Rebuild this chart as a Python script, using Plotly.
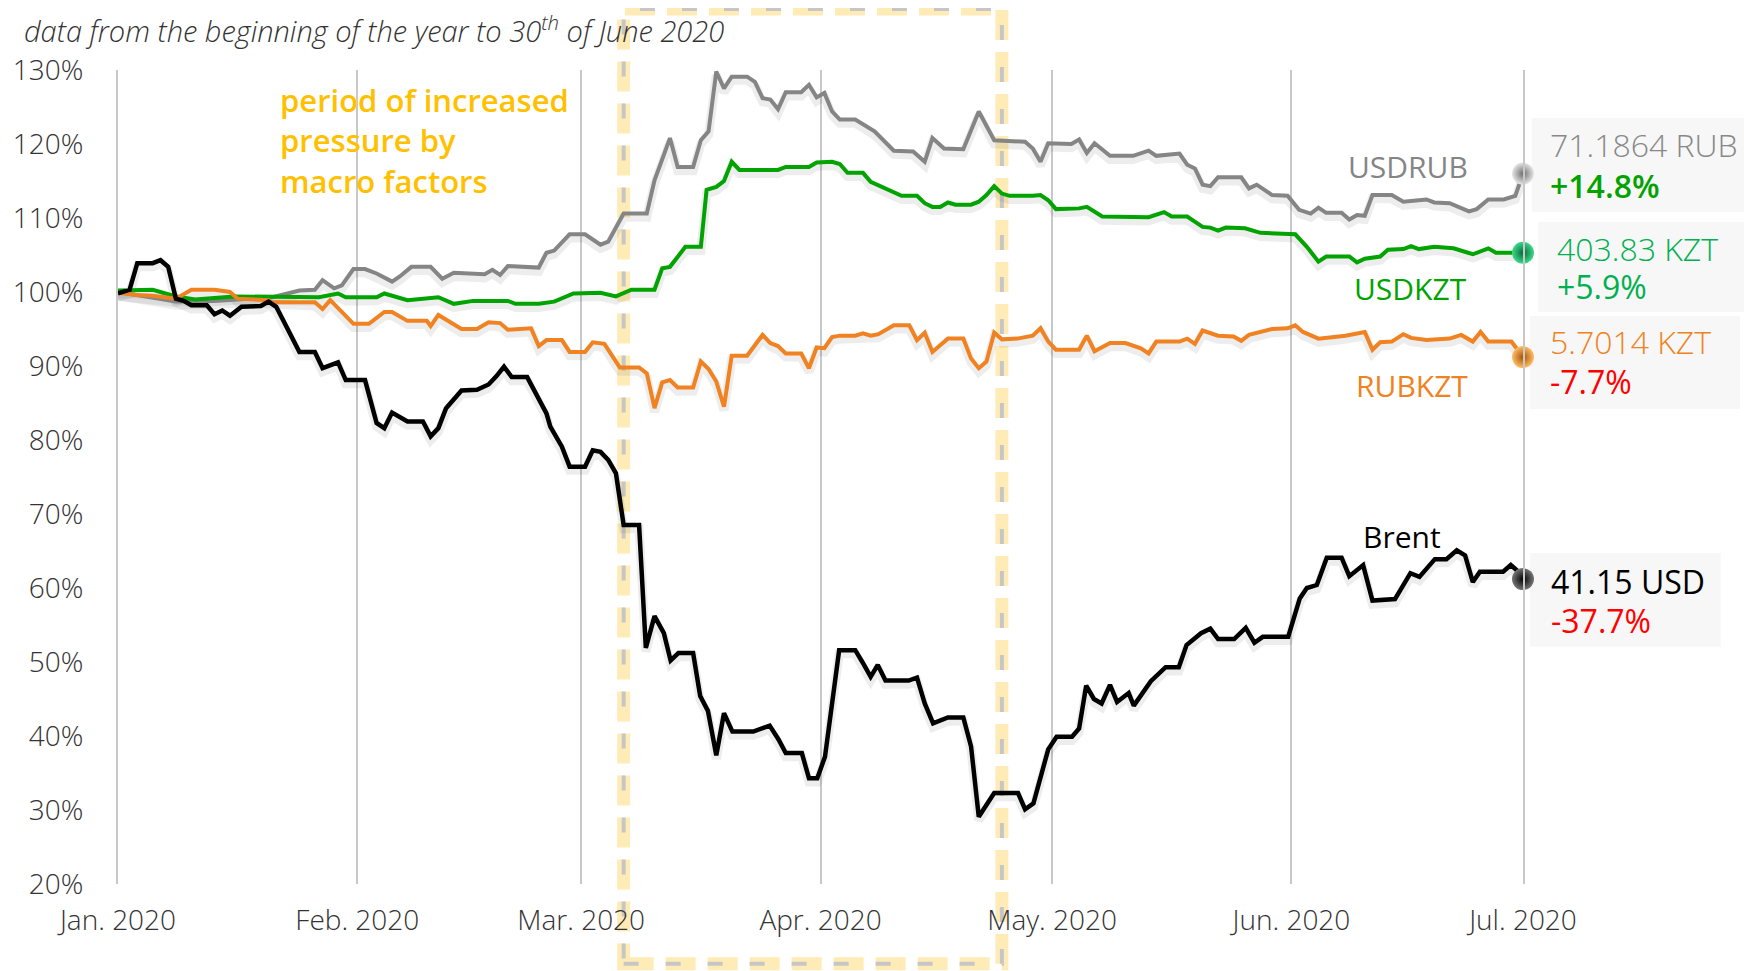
import plotly.graph_objects as go

# ---------------- axis ticks ----------------
month_ticks = ["2020-01-01", "2020-02-01", "2020-03-01", "2020-04-01",
               "2020-05-01", "2020-06-01", "2020-07-01"]
month_labels = ["Jan. 2020", "Feb. 2020", "Mar. 2020", "Apr. 2020",
                "May. 2020", "Jun. 2020", "Jul. 2020"]
pct_ticks = [20, 30, 40, 50, 60, 70, 80, 90, 100, 110, 120, 130]
pct_labels = ["20%", "30%", "40%", "50%", "60%", "70%", "80%", "90%",
              "100%", "110%", "120%", "130%"]

# ---------------- USDRUB (index, start of year = 100%) ----------------
usdrub_dates = [
    "2020-01-01", "2020-01-08 12:00", "2020-01-13 12:00", "2020-01-21", "2020-01-24 12:00",
    "2020-01-26 12:00", "2020-01-27 12:00", "2020-01-29", "2020-01-30", "2020-01-31 12:00",
    "2020-02-02", "2020-02-03 12:00", "2020-02-05 12:00", "2020-02-06 12:00", "2020-02-08",
    "2020-02-10 12:00", "2020-02-12", "2020-02-13 12:00", "2020-02-17 12:00", "2020-02-18 12:00",
    "2020-02-19 12:00", "2020-02-20 12:00", "2020-02-24 12:00", "2020-02-25 12:00", "2020-02-26 12:00",
    "2020-02-28 12:00", "2020-03-01 12:00", "2020-03-03 12:00", "2020-03-04 12:00", "2020-03-06 12:00",
    "2020-03-09 12:00", "2020-03-10 12:00", "2020-03-12 12:00", "2020-03-13 12:00", "2020-03-15 12:00",
    "2020-03-16 12:00", "2020-03-17 12:00", "2020-03-18 12:00", "2020-03-19 12:00", "2020-03-20 12:00",
    "2020-03-22 12:00", "2020-03-23 12:00", "2020-03-24 12:00", "2020-03-25 12:00", "2020-03-26 12:00",
    "2020-03-27 12:00", "2020-03-29 12:00", "2020-03-30 12:00", "2020-03-31 12:00", "2020-04-01 12:00",
    "2020-04-02 12:00", "2020-04-03 12:00", "2020-04-05 12:00", "2020-04-08", "2020-04-10 12:00",
    "2020-04-13", "2020-04-14 12:00", "2020-04-15 12:00", "2020-04-17", "2020-04-19 12:00",
    "2020-04-21 12:00", "2020-04-23 12:00", "2020-04-27 12:00", "2020-04-28 12:00", "2020-04-29 12:00",
    "2020-04-30 12:00", "2020-05-03 12:00", "2020-05-04 12:00", "2020-05-05 12:00", "2020-05-06 12:00",
    "2020-05-08 12:00", "2020-05-11 12:00", "2020-05-13 12:00", "2020-05-14 12:00", "2020-05-17 12:00",
    "2020-05-18 12:00", "2020-05-19 12:00", "2020-05-20 12:00", "2020-05-21 12:00", "2020-05-22 12:00",
    "2020-05-25 12:00", "2020-05-26 12:00", "2020-05-27 12:00", "2020-05-29 12:00", "2020-05-31 12:00",
    "2020-06-02", "2020-06-03 12:00", "2020-06-04 12:00", "2020-06-05 12:00", "2020-06-07 12:00",
    "2020-06-08 12:00", "2020-06-09 12:00", "2020-06-10 12:00", "2020-06-11 12:00", "2020-06-14",
    "2020-06-15 12:00", "2020-06-18 12:00", "2020-06-19 12:00", "2020-06-21 12:00", "2020-06-24",
    "2020-06-25", "2020-06-26 12:00", "2020-06-28 12:00", "2020-06-30", "2020-07-01",
]
usdrub_values = [
    100.0, 98.7, 98.8, 99.3, 100.2,
    100.3, 101.6, 100.5, 100.9, 103.1,
    103.1, 102.5, 101.4, 102.1, 103.4,
    103.4, 101.8, 102.6, 102.4, 103.0,
    102.3, 103.5, 103.3, 105.3, 105.6,
    107.8, 107.8, 106.4, 106.8, 110.6,
    110.6, 115.1, 120.8, 116.9, 116.9,
    120.5, 121.7, 129.8, 127.5, 129.1,
    129.1, 128.4, 126.2, 126.0, 124.7,
    127.0, 127.0, 128.0, 126.3, 126.9,
    124.4, 123.3, 123.3, 121.7, 119.1,
    119.0, 117.6, 120.8, 119.4, 119.3,
    124.4, 120.5, 120.3, 119.4, 117.6,
    120.1, 120.0, 120.6, 118.8, 120.1,
    118.4, 118.4, 119.1, 118.4, 118.7,
    117.2, 116.7, 114.5, 114.3, 115.5,
    115.5, 114.0, 114.5, 113.1, 113.0,
    111.1, 110.6, 111.4, 110.7, 110.7,
    109.8, 110.4, 110.3, 113.1, 113.1,
    112.2, 112.5, 112.1, 112.0, 110.9,
    111.2, 112.5, 112.5, 113.0, 116.0,
]

# ---------------- USDKZT ----------------
usdkzt_dates = [
    "2020-01-01", "2020-01-05 12:00", "2020-01-08 12:00", "2020-01-11", "2020-01-16",
    "2020-01-21", "2020-01-27", "2020-01-29 12:00", "2020-01-30 12:00", "2020-02-03 12:00",
    "2020-02-04 12:00", "2020-02-07 12:00", "2020-02-11 12:00", "2020-02-13 12:00", "2020-02-16",
    "2020-02-20 12:00", "2020-02-21 12:00", "2020-02-24 12:00", "2020-02-26 12:00", "2020-02-29",
    "2020-03-03 12:00", "2020-03-05 12:00", "2020-03-07 12:00", "2020-03-10 12:00", "2020-03-11 12:00",
    "2020-03-12 12:00", "2020-03-14 12:00", "2020-03-16 12:00", "2020-03-17 06:00", "2020-03-18 12:00",
    "2020-03-19 12:00", "2020-03-20 12:00", "2020-03-21 12:00", "2020-03-26 12:00", "2020-03-27 12:00",
    "2020-03-30 12:00", "2020-03-31 12:00", "2020-04-02 12:00", "2020-04-03 12:00", "2020-04-04 12:00",
    "2020-04-06 12:00", "2020-04-07 12:00", "2020-04-09 12:00", "2020-04-11 12:00", "2020-04-13 12:00",
    "2020-04-14 12:00", "2020-04-15 12:00", "2020-04-16 12:00", "2020-04-17 12:00", "2020-04-18 12:00",
    "2020-04-20 12:00", "2020-04-21 12:00", "2020-04-22 12:00", "2020-04-23 12:00", "2020-04-24 12:00",
    "2020-04-25 12:00", "2020-04-28 12:00", "2020-04-29 12:00", "2020-04-30 12:00", "2020-05-01 12:00",
    "2020-05-04 12:00", "2020-05-05 12:00", "2020-05-07 12:00", "2020-05-11 12:00", "2020-05-13 12:00",
    "2020-05-15 12:00", "2020-05-16 12:00", "2020-05-18 12:00", "2020-05-20 12:00", "2020-05-21 12:00",
    "2020-05-22 12:00", "2020-05-23 12:00", "2020-05-26", "2020-05-28", "2020-05-29 12:00",
    "2020-06-01 12:00", "2020-06-03", "2020-06-04 12:00", "2020-06-05 12:00", "2020-06-08 12:00",
    "2020-06-09 12:00", "2020-06-10 12:00", "2020-06-12 12:00", "2020-06-13 12:00", "2020-06-15 12:00",
    "2020-06-16 12:00", "2020-06-17 12:00", "2020-06-19 12:00", "2020-06-22", "2020-06-24 12:00",
    "2020-06-26 12:00", "2020-06-27 12:00", "2020-06-30", "2020-07-01",
]
usdkzt_values = [
    100.2, 100.3, 99.4, 99.0, 99.4,
    99.3, 99.3, 99.8, 99.3, 99.3,
    99.8, 98.9, 99.3, 98.4, 98.8,
    98.8, 98.4, 98.4, 98.7, 99.8,
    99.9, 99.4, 100.3, 100.3, 103.2,
    103.4, 106.1, 106.1, 113.8, 114.2,
    115.0, 117.6, 116.5, 116.5, 116.9,
    116.9, 117.5, 117.6, 117.3, 116.1,
    116.1, 114.9, 114.0, 113.0, 113.0,
    112.0, 111.5, 111.5, 112.1, 111.8,
    111.8, 112.2, 113.1, 114.3, 113.3,
    113.0, 113.0, 113.1, 112.4, 111.2,
    111.3, 111.5, 110.2, 110.2, 110.1,
    110.8, 110.2, 110.2, 108.8, 108.7,
    108.3, 108.7, 108.6, 108.0, 107.9,
    107.8, 106.1, 104.1, 104.8, 104.8,
    104.0, 104.5, 104.8, 105.7, 105.8,
    106.2, 105.8, 106.1, 105.9, 105.1,
    105.9, 105.3, 105.3, 105.3,
]

# ---------------- RUBKZT ----------------
rubkzt_dates = [
    "2020-01-01", "2020-01-03 12:00", "2020-01-05 12:00", "2020-01-08 12:00", "2020-01-10 12:00",
    "2020-01-13 12:00", "2020-01-15 12:00", "2020-01-16 12:00", "2020-01-20 12:00", "2020-01-21",
    "2020-01-26 12:00", "2020-01-27 12:00", "2020-01-28 12:00", "2020-01-30", "2020-01-31 12:00",
    "2020-02-02 12:00", "2020-02-04 12:00", "2020-02-05 12:00", "2020-02-07 12:00", "2020-02-10",
    "2020-02-10 12:00", "2020-02-11 12:00", "2020-02-12 12:00", "2020-02-14 12:00", "2020-02-16 12:00",
    "2020-02-18", "2020-02-19 12:00", "2020-02-20 12:00", "2020-02-23 12:00", "2020-02-24 12:00",
    "2020-02-25 12:00", "2020-02-27 12:00", "2020-02-28 12:00", "2020-03-01 12:00", "2020-03-02 12:00",
    "2020-03-04", "2020-03-06", "2020-03-08 12:00", "2020-03-09 12:00", "2020-03-10 12:00",
    "2020-03-11 12:00", "2020-03-12 12:00", "2020-03-13 12:00", "2020-03-15 12:00", "2020-03-16 12:00",
    "2020-03-17 12:00", "2020-03-18 12:00", "2020-03-19 12:00", "2020-03-20 12:00", "2020-03-22 12:00",
    "2020-03-23 12:00", "2020-03-24 12:00", "2020-03-25 12:00", "2020-03-26 12:00", "2020-03-27 12:00",
    "2020-03-29 12:00", "2020-03-30 12:00", "2020-03-31 12:00", "2020-04-01 12:00", "2020-04-02 12:00",
    "2020-04-03 12:00", "2020-04-05 12:00", "2020-04-06 12:00", "2020-04-07 12:00", "2020-04-08 12:00",
    "2020-04-10 12:00", "2020-04-12 12:00", "2020-04-13 12:00", "2020-04-14 12:00", "2020-04-15 12:00",
    "2020-04-16 12:00", "2020-04-17 12:00", "2020-04-19 12:00", "2020-04-20 12:00", "2020-04-21 12:00",
    "2020-04-22 12:00", "2020-04-23 12:00", "2020-04-24 12:00", "2020-04-26 12:00", "2020-04-28 12:00",
    "2020-04-29 12:00", "2020-04-30 12:00", "2020-05-01 12:00", "2020-05-04 12:00", "2020-05-05 12:00",
    "2020-05-06 12:00", "2020-05-08 12:00", "2020-05-10 12:00", "2020-05-12 12:00", "2020-05-13 12:00",
    "2020-05-14 12:00", "2020-05-17 12:00", "2020-05-18 12:00", "2020-05-19 12:00", "2020-05-20 12:00",
    "2020-05-22 12:00", "2020-05-24 12:00", "2020-05-25 12:00", "2020-05-26 12:00", "2020-05-29 12:00",
    "2020-05-31 12:00", "2020-06-01 12:00", "2020-06-02 12:00", "2020-06-04 12:00", "2020-06-08",
    "2020-06-10 12:00", "2020-06-11 12:00", "2020-06-12 12:00", "2020-06-14", "2020-06-15 12:00",
    "2020-06-16 12:00", "2020-06-18 12:00", "2020-06-21 12:00", "2020-06-23", "2020-06-24 12:00",
    "2020-06-25 12:00", "2020-06-26 12:00", "2020-06-29 12:00", "2020-07-01",
]
rubkzt_values = [
    99.9, 99.6, 99.5, 99.1, 100.3,
    100.3, 100.0, 99.1, 98.9, 98.6,
    98.6, 97.7, 98.9, 97.3, 95.7,
    95.7, 97.3, 97.3, 96.1, 96.1,
    95.4, 96.9, 96.3, 95.0, 95.0,
    95.9, 95.8, 94.9, 95.1, 92.7,
    93.5, 93.5, 91.9, 91.9, 93.2,
    93.0, 89.8, 89.8, 89.0, 84.3,
    87.8, 88.1, 87.1, 87.1, 90.6,
    89.6, 87.9, 84.5, 91.4, 91.4,
    92.8, 94.2, 93.1, 92.7, 91.7,
    91.7, 89.7, 92.5, 92.4, 93.9,
    94.1, 94.1, 94.4, 94.1, 94.3,
    95.5, 95.5, 93.5, 94.5, 91.9,
    92.8, 93.7, 93.7, 91.0, 89.7,
    90.6, 94.5, 93.6, 93.7, 94.1,
    95.1, 93.3, 92.2, 92.2, 94.1,
    92.0, 93.1, 93.1, 92.4, 91.7,
    93.3, 93.3, 93.7, 93.0, 94.8,
    94.1, 94.0, 93.4, 94.2, 95.0,
    95.1, 95.5, 94.6, 93.7, 94.1,
    94.6, 92.2, 93.2, 93.3, 94.3,
    93.8, 93.5, 93.7, 94.2, 93.3,
    94.6, 93.3, 93.3, 91.2,
]

# ---------------- Brent ----------------
brent_dates = [
    "2020-01-01", "2020-01-02 12:00", "2020-01-03 12:00", "2020-01-05 12:00", "2020-01-06 12:00",
    "2020-01-07 12:00", "2020-01-08 12:00", "2020-01-09 12:00", "2020-01-10 12:00", "2020-01-12 12:00",
    "2020-01-13 12:00", "2020-01-14 12:00", "2020-01-15 12:00", "2020-01-17", "2020-01-19 12:00",
    "2020-01-20 12:00", "2020-01-21 12:00", "2020-01-23", "2020-01-24 12:00", "2020-01-26 12:00",
    "2020-01-27 12:00", "2020-01-29 12:00", "2020-01-30 12:00", "2020-02-02", "2020-02-03 12:00",
    "2020-02-04 12:00", "2020-02-05 12:00", "2020-02-07 12:00", "2020-02-09 12:00", "2020-02-10 12:00",
    "2020-02-11 12:00", "2020-02-12 12:00", "2020-02-13 12:00", "2020-02-14 12:00", "2020-02-16 12:00",
    "2020-02-18", "2020-02-19", "2020-02-20", "2020-02-21", "2020-02-23",
    "2020-02-25 12:00", "2020-02-26", "2020-02-27 12:00", "2020-02-28 12:00", "2020-03-01 12:00",
    "2020-03-02 12:00", "2020-03-03 12:00", "2020-03-04 12:00", "2020-03-05 12:00", "2020-03-06 12:00",
    "2020-03-08 12:00", "2020-03-09 09:00", "2020-03-10 12:00", "2020-03-11 17:00", "2020-03-12 14:00",
    "2020-03-13 14:00", "2020-03-15 12:00", "2020-03-16 10:00", "2020-03-17 10:00", "2020-03-18 12:00",
    "2020-03-19 12:00", "2020-03-20 14:00", "2020-03-23 07:00", "2020-03-25 10:00", "2020-03-26 14:00",
    "2020-03-27 12:00", "2020-03-29 14:00", "2020-03-30 12:00", "2020-03-31 14:00", "2020-04-01 14:00",
    "2020-04-03 10:00", "2020-04-05 12:00", "2020-04-06 10:00", "2020-04-07 12:00", "2020-04-08 10:00",
    "2020-04-09 10:00", "2020-04-12 10:00", "2020-04-13 12:00", "2020-04-14 12:00", "2020-04-15 14:00",
    "2020-04-17 12:00", "2020-04-19 12:00", "2020-04-20 12:00", "2020-04-21 12:00", "2020-04-23 12:00",
    "2020-04-26 14:00", "2020-04-27 12:00", "2020-04-28 14:00", "2020-04-29 07:00", "2020-04-30 12:00",
    "2020-05-01 14:00", "2020-05-03 14:00", "2020-05-04 12:00", "2020-05-05 10:00", "2020-05-06 10:00",
    "2020-05-07 10:00", "2020-05-08 12:00", "2020-05-09 10:00", "2020-05-10 22:00", "2020-05-11 14:00",
    "2020-05-13 19:00", "2020-05-15 17:00", "2020-05-17 10:00", "2020-05-18 10:00", "2020-05-20 07:00",
    "2020-05-21 12:00", "2020-05-22 12:00", "2020-05-24 14:00", "2020-05-26 02:00", "2020-05-27 05:00",
    "2020-05-28 07:00", "2020-05-31 14:00", "2020-06-02 02:00", "2020-06-03", "2020-06-04 07:00",
    "2020-06-05 14:00", "2020-06-07 12:00", "2020-06-08 12:00", "2020-06-10 07:00", "2020-06-11 12:00",
    "2020-06-14 10:00", "2020-06-16 10:00", "2020-06-17 14:00", "2020-06-19 14:00", "2020-06-21 02:00",
    "2020-06-22 10:00", "2020-06-23 12:00", "2020-06-24 12:00", "2020-06-25 10:00", "2020-06-28 10:00",
    "2020-06-29 10:00", "2020-06-30 10:00", "2020-07-01",
]
brent_values = [
    99.8, 100.3, 103.9, 103.9, 104.3,
    103.4, 99.1, 98.8, 98.2, 98.2,
    97.0, 97.5, 96.8, 98.0, 98.1,
    98.7, 98.0, 94.9, 91.9, 91.9,
    89.7, 90.5, 88.1, 88.1, 82.3,
    81.6, 83.7, 82.5, 82.5, 80.5,
    81.6, 84.3, 85.4, 86.7, 86.8,
    87.5, 88.6, 89.9, 88.5, 88.5,
    83.6, 81.8, 79.1, 76.4, 76.4,
    78.6, 78.4, 77.3, 75.5, 68.5,
    68.5, 51.9, 56.2, 53.9, 50.2,
    51.2, 51.2, 45.4, 43.4, 37.4,
    43.1, 40.6, 40.6, 41.4, 39.5,
    37.7, 37.7, 34.3, 34.3, 37.2,
    51.6, 51.6, 50.0, 48.0, 49.6,
    47.5, 47.5, 47.9, 44.4, 41.7,
    42.5, 42.5, 38.6, 29.1, 32.3,
    32.3, 30.1, 30.9, 33.6, 38.2,
    39.9, 39.9, 41.0, 46.8, 45.0,
    44.4, 46.9, 44.6, 45.8, 44.1,
    47.4, 49.3, 49.3, 52.3, 53.9,
    54.5, 53.1, 53.1, 54.6, 52.6,
    53.4, 53.4, 58.6, 60.0, 60.4,
    64.1, 64.1, 61.6, 63.1, 58.3,
    58.5, 62.0, 61.5, 63.9, 63.9,
    65.1, 64.4, 60.8, 62.2, 62.2,
    63.1, 62.2, 61.2,
]

# ---------------- texts ----------------
series_names = ["USDRUB", "USDKZT", "RUBKZT", "Brent"]
last_quotes = ["71.1864 RUB", "403.83 KZT", "5.7014 KZT", "41.15 USD"]
ytd_changes = ["+14.8%", "+5.9%", "-7.7%", "-37.7%"]
title_text = "data from the beginning of the year to 30<sup>th</sup> of June 2020"
period_text = "period of increased<br>pressure by<br>macro factors"
period_start = "2020-03-06 12:00"
period_end = "2020-04-24 12:00"

FONT = "Open Sans"

series = [
    dict(x=usdrub_dates, y=usdrub_values, color="#858585", width=4,
         m_center="#e6e6e6", m_edge="#6e6e6e"),
    dict(x=usdkzt_dates, y=usdkzt_values, color="#00a300", width=4,
         m_center="#3fd98a", m_edge="#006b3a"),
    dict(x=rubkzt_dates, y=rubkzt_values, color="#f08221", width=4,
         m_center="#ffbe6a", m_edge="#a65300"),
    dict(x=brent_dates, y=brent_values, color="#000000", width=4.5,
         m_center="#777777", m_edge="#000000"),
]

fig = go.Figure()

# soft drop-shadow under every line
for s in series:
    fig.add_trace(go.Scatter(
        x=s["x"], y=[v - 0.5 for v in s["y"]], mode="lines",
        line=dict(color="rgba(0,0,0,0.07)", width=9),
        hoverinfo="skip", showlegend=False, cliponaxis=False))

for s, name in zip(series, series_names):
    fig.add_trace(go.Scatter(
        x=s["x"], y=s["y"], mode="lines", name=name,
        line=dict(color=s["color"], width=s["width"], shape="linear"),
        showlegend=False, cliponaxis=False))

for s in series:
    fig.add_trace(go.Scatter(
        x=[s["x"][-1]], y=[s["y"][-1]], mode="markers",
        marker=dict(size=22, color=s["m_center"],
                    gradient=dict(type="radial", color=s["m_edge"]),
                    line=dict(width=0)),
        showlegend=False, cliponaxis=False))

# ---------------- shapes: highlighted period + info boxes ----------------
shapes = [
    dict(type="rect", xref="x", yref="paper", x0=period_start, x1=period_end,
         y0=-0.098, y1=1.075, layer="below",
         line=dict(color="rgba(255,216,110,0.5)", width=13, dash="30px,12px")),
    dict(type="rect", xref="x", yref="paper", x0=period_start, x1=period_end,
         y0=-0.098, y1=1.075, layer="below",
         line=dict(color="#c6c6c6", width=4, dash="15px,27px")),
]
box_coords = [
    (1.0062, 1.32, 0.8256, 0.9410),
    (1.0107, 1.32, 0.7027, 0.8133),
    (1.0050, 1.1544, 0.5835, 0.6978),
    (1.0050, 1.1407, 0.2915, 0.4066),
]
for x0, x1, y0, y1 in box_coords:
    shapes.append(dict(type="rect", xref="paper", yref="paper",
                       x0=x0, x1=x1, y0=y0, y1=y1, layer="below",
                       fillcolor="#f7f7f7", line=dict(width=0)))

# ---------------- annotations ----------------
ann = []
ann.append(dict(text=title_text, xref="paper", yref="paper", x=-0.068, y=1.050,
                xanchor="left", yanchor="middle", showarrow=False,
                font=dict(family=FONT, size=29, color="#333333", style="italic", weight=300)))
ann.append(dict(text=period_text, xref="paper", yref="paper", x=0.114, y=0.913,
                xanchor="left", yanchor="middle", align="left", showarrow=False,
                font=dict(family=FONT, size=31, color="#ffc000", weight=600)))

label_pos = [(0.9181, 0.8812), (0.9196, 0.7318), (0.9208, 0.6130), (0.9137, 0.4267)]
label_colors = ["#858585", "#00a300", "#f08221", "#000000"]
for name, (lx, ly), c in zip(series_names, label_pos, label_colors):
    ann.append(dict(text=name, xref="paper", yref="paper", x=lx, y=ly,
                    xanchor="center", yanchor="middle", showarrow=False,
                    font=dict(family=FONT, size=30, color=c, weight=400)))

quote_pos = [(1.0178, 0.9079, 0.8587), (1.0228, 0.7813, 0.7338),
             (1.0178, 0.6662, 0.6171), (1.0185, 0.3714, 0.3243)]
quote_colors = ["#888888", "#00b050", "#f08221", "#000000"]
quote_weights = [300, 300, 300, 400]
change_colors = ["#00a300", "#00b050", "#ff0000", "#ff0000"]
change_weights = [600, 400, 400, 400]
for q, ch, (qx, y1, y2), qc, qw, cc, cw in zip(last_quotes, ytd_changes, quote_pos,
                                               quote_colors, quote_weights,
                                               change_colors, change_weights):
    ann.append(dict(text=q, xref="paper", yref="paper", x=qx, y=y1,
                    xanchor="left", yanchor="middle", showarrow=False,
                    font=dict(family=FONT, size=32, color=qc, weight=qw)))
    ann.append(dict(text=ch, xref="paper", yref="paper", x=qx, y=y2,
                    xanchor="left", yanchor="middle", showarrow=False,
                    font=dict(family=FONT, size=32, color=cc, weight=cw)))

# the page body has an 8px margin, so the figure is 8px smaller on each side
fig.update_layout(
    template="none",
    width=1744, height=963,
    margin=dict(l=110, r=229, t=62, b=87, autoexpand=False),
    paper_bgcolor="white", plot_bgcolor="rgba(0,0,0,0)",
    showlegend=False, hovermode=False,
    shapes=shapes, annotations=ann,
    font=dict(family=FONT, color="#333333"),
    xaxis=dict(type="date", range=["2020-01-01", "2020-07-01"], automargin=False,
               tickmode="array", tickvals=month_ticks, ticktext=month_labels,
               showgrid=True, gridcolor="#c8c8c8", gridwidth=2,
               zeroline=False, showline=False,
               ticks="outside", ticklen=11, tickcolor="rgba(0,0,0,0)",
               tickfont=dict(family=FONT, size=28, color="#333333", weight=300)),
    yaxis=dict(range=[20, 130], automargin=False,
               tickmode="array", tickvals=pct_ticks, ticktext=pct_labels,
               showgrid=False, zeroline=False,
               showline=True, mirror=True, linecolor="#c8c8c8", linewidth=2,
               ticks="outside", ticklen=27, tickcolor="rgba(0,0,0,0)",
               tickfont=dict(family=FONT, size=28, color="#333333", weight=300)),
)

fig.write_html("out.html")
